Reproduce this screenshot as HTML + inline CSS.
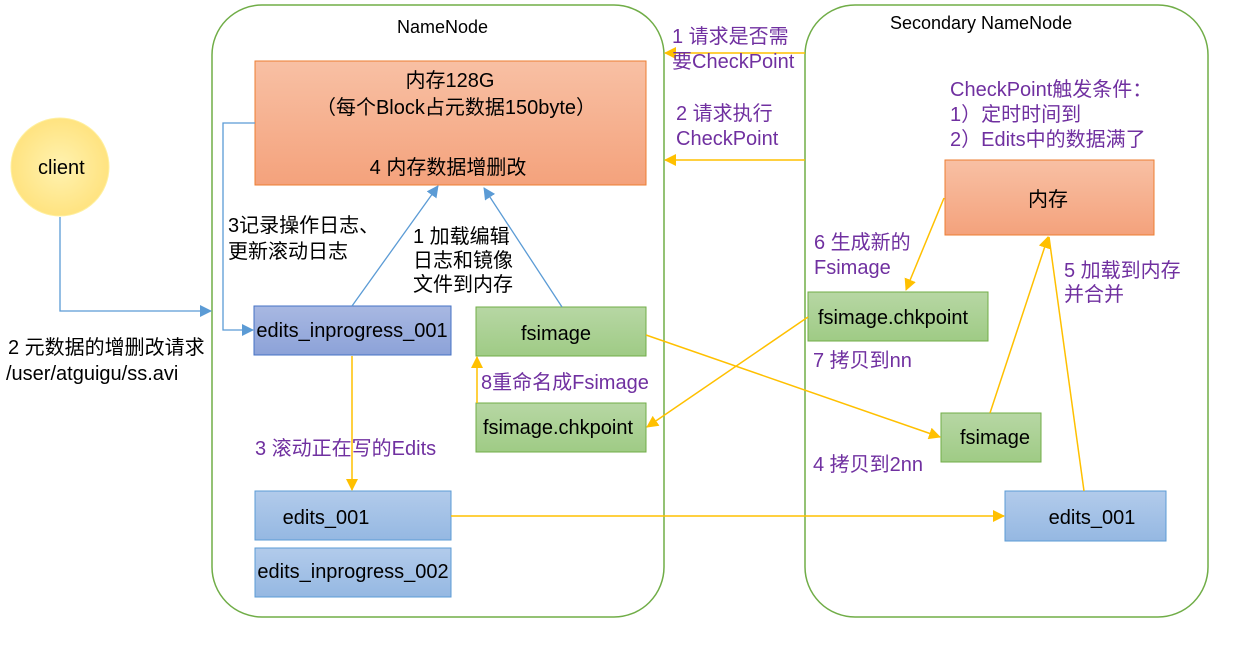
<!DOCTYPE html>
<html><head><meta charset="utf-8"><style>
body{margin:0;background:#fff;}
text{font-family:"Liberation Sans","Noto Sans CJK SC",sans-serif;font-size:20px;}
.p{fill:#7030a0}
</style></head><body>
<svg width="1252" height="652" xmlns="http://www.w3.org/2000/svg">
<defs>
<linearGradient id="or" x1="0" y1="0" x2="0" y2="1"><stop offset="0" stop-color="#f8c0a4"/><stop offset="1" stop-color="#f4a27c"/></linearGradient>
<linearGradient id="gr" x1="0" y1="0" x2="0" y2="1"><stop offset="0" stop-color="#b7d7a4"/><stop offset="1" stop-color="#9fcb85"/></linearGradient>
<linearGradient id="bl" x1="0" y1="0" x2="0" y2="1"><stop offset="0" stop-color="#b2cbeb"/><stop offset="1" stop-color="#95b8e2"/></linearGradient>
<linearGradient id="pu" x1="0" y1="0" x2="0" y2="1"><stop offset="0" stop-color="#a8b8e2"/><stop offset="1" stop-color="#8ca2d8"/></linearGradient>
<radialGradient id="yl"><stop offset="0" stop-color="#fff2b0"/><stop offset="1" stop-color="#ffe380"/></radialGradient>
<marker id="ao" markerWidth="12" markerHeight="12" refX="11" refY="6" orient="auto" markerUnits="userSpaceOnUse"><path d="M0,0 L12,6 L0,12 z" fill="#ffc000"/></marker>
<marker id="ab" markerWidth="12" markerHeight="12" refX="11" refY="6" orient="auto" markerUnits="userSpaceOnUse"><path d="M0,0 L12,6 L0,12 z" fill="#5b9bd5"/></marker>
</defs>
<rect x="212" y="5" width="452" height="612" rx="50" fill="none" stroke="#70ad47" stroke-width="1.5"/>
<rect x="805" y="5" width="403" height="612" rx="50" fill="none" stroke="#70ad47" stroke-width="1.5"/>
<text x="397" y="33" font-size="18" style="font-size:18px">NameNode</text>
<text x="890" y="29" style="font-size:18px">Secondary NameNode</text>
<circle cx="60" cy="167" r="49" fill="url(#yl)" stroke="#fff0a0"/>
<text x="38" y="174">client</text>
<rect x="255" y="61" width="391" height="124" fill="url(#or)" stroke="#ed7d31"/>
<text x="450" y="87" text-anchor="middle">内存128G</text>
<text x="456" y="114" text-anchor="middle">（每个Block占元数据150byte）</text>
<text x="448" y="174" text-anchor="middle">4 内存数据增删改</text>
<rect x="254" y="306" width="197" height="49" fill="url(#pu)" stroke="#4472c4"/>
<text x="352" y="337" text-anchor="middle">edits_inprogress_001</text>
<rect x="476" y="307" width="170" height="49" fill="url(#gr)" stroke="#70ad47"/>
<text x="556" y="340" text-anchor="middle">fsimage</text>
<rect x="476" y="403" width="170" height="49" fill="url(#gr)" stroke="#70ad47"/>
<text x="558" y="434" text-anchor="middle">fsimage.chkpoint</text>
<rect x="255" y="491" width="196" height="49" fill="url(#bl)" stroke="#5b9bd5"/>
<text x="326" y="524" text-anchor="middle">edits_001</text>
<rect x="255" y="548" width="196" height="49" fill="url(#bl)" stroke="#5b9bd5"/>
<text x="353" y="578" text-anchor="middle">edits_inprogress_002</text>
<rect x="945" y="160" width="209" height="75" fill="url(#or)" stroke="#ed7d31"/>
<text x="1048" y="206" text-anchor="middle">内存</text>
<rect x="808" y="292" width="180" height="49" fill="url(#gr)" stroke="#70ad47"/>
<text x="893" y="324" text-anchor="middle">fsimage.chkpoint</text>
<rect x="941" y="413" width="100" height="49" fill="url(#gr)" stroke="#70ad47"/>
<text x="995" y="444" text-anchor="middle">fsimage</text>
<rect x="1005" y="491" width="161" height="50" fill="url(#bl)" stroke="#5b9bd5"/>
<text x="1092" y="524" text-anchor="middle">edits_001</text>
<g fill="none" stroke="#5b9bd5" stroke-width="1.3">
<path d="M60,217 V311 H211" marker-end="url(#ab)"/>
<path d="M255,123 H223 V330 H253" marker-end="url(#ab)"/>
<path d="M352,306 L438,186" marker-end="url(#ab)"/>
<path d="M562,307 L484,188" marker-end="url(#ab)"/>
</g>
<g fill="none" stroke="#ffc000" stroke-width="1.5">
<path d="M352,356 V490" marker-end="url(#ao)"/>
<path d="M477,403 V357" marker-end="url(#ao)"/>
<path d="M805,53 H665" marker-end="url(#ao)"/>
<path d="M805,160 H665" marker-end="url(#ao)"/>
<path d="M646,335 L940,437" marker-end="url(#ao)"/>
<path d="M808,317 L647,427" marker-end="url(#ao)"/>
<path d="M451,516 L1004,516" marker-end="url(#ao)"/>
<path d="M944,198 L906,290" marker-end="url(#ao)"/>
<path d="M990,413 L1048,237" marker-end="url(#ao)"/>
<path d="M1084,491 L1049,237"/>
</g>
<text x="8" y="354">2 元数据的增删改请求</text>
<text x="6" y="380">/user/atguigu/ss.avi</text>
<text x="228" y="232">3记录操作日志、</text>
<text x="228" y="258">更新滚动日志</text>
<text x="413" y="243">1 加载编辑</text>
<text x="413" y="267">日志和镜像</text>
<text x="413" y="291">文件到内存</text>
<text class="p" x="481" y="389">8重命名成Fsimage</text>
<text class="p" x="255" y="455">3 滚动正在写的Edits</text>
<text class="p" x="672" y="43">1 请求是否需</text>
<text class="p" x="672" y="68">要CheckPoint</text>
<text class="p" x="676" y="120">2 请求执行</text>
<text class="p" x="676" y="145">CheckPoint</text>
<text class="p" x="950" y="96">CheckPoint触发条件：</text>
<text class="p" x="950" y="121">1）定时时间到</text>
<text class="p" x="950" y="146">2）Edits中的数据满了</text>
<text class="p" x="814" y="249">6 生成新的</text>
<text class="p" x="814" y="274">Fsimage</text>
<text class="p" x="1064" y="277">5 加载到内存</text>
<text class="p" x="1064" y="301">并合并</text>
<text class="p" x="813" y="367">7 拷贝到nn</text>
<text class="p" x="813" y="471">4 拷贝到2nn</text>
</svg>
</body></html>
